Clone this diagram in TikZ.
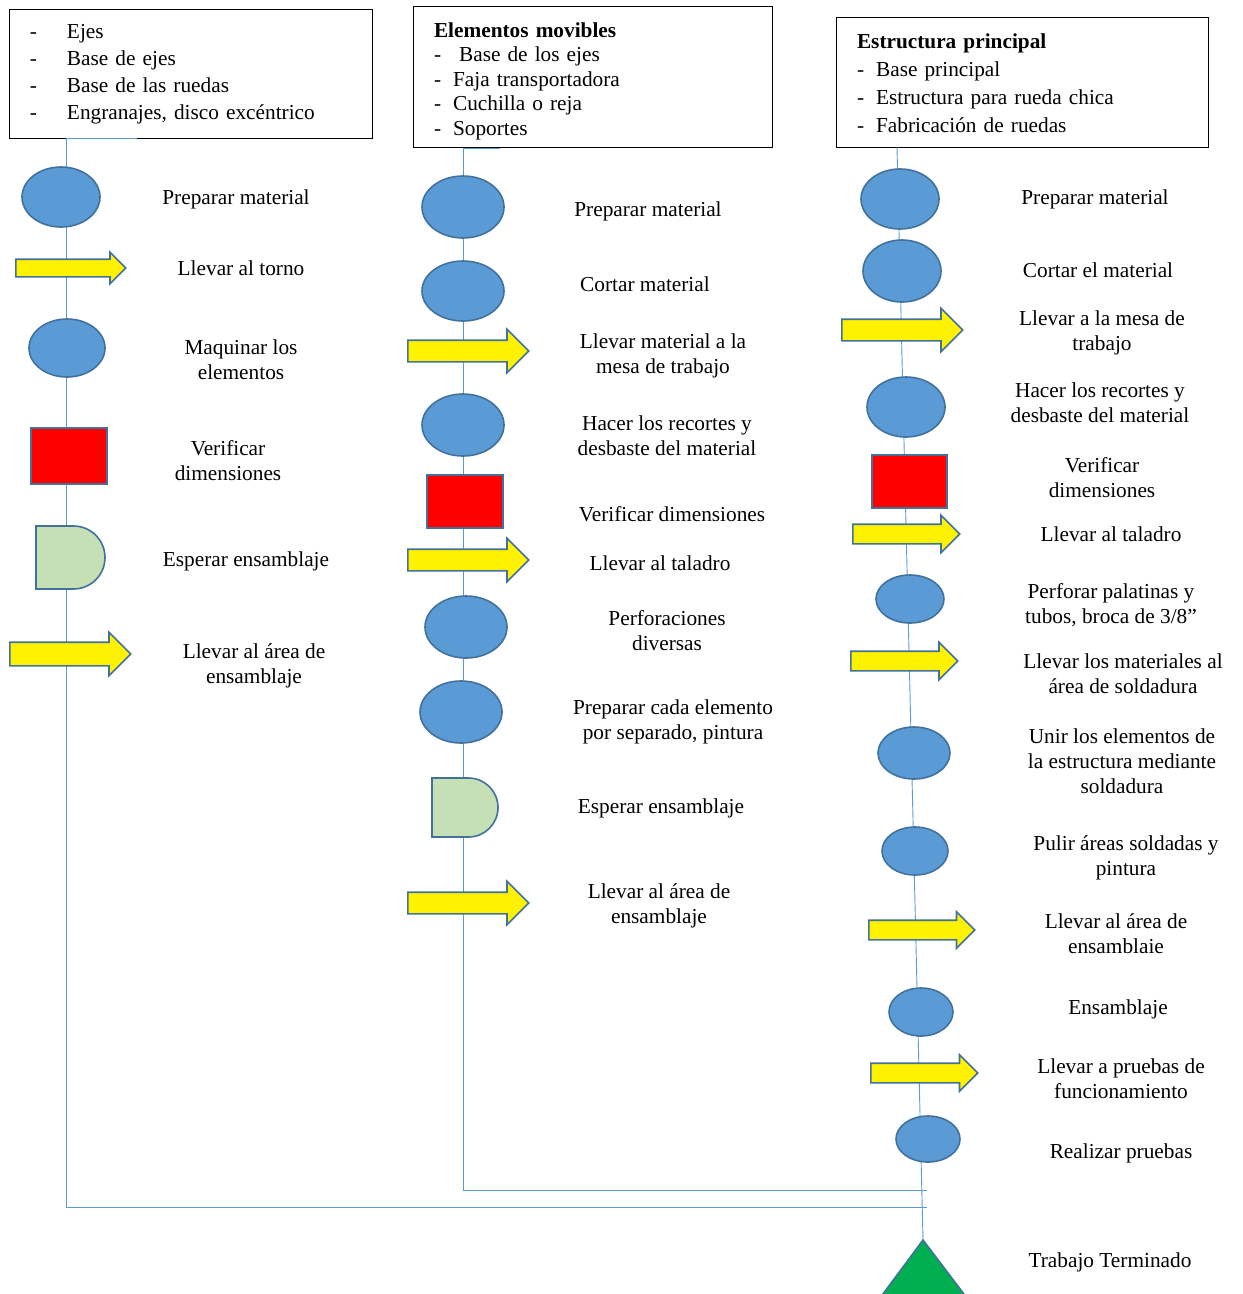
\documentclass[tikz,border=0pt]{standalone}
\usepackage{fontspec}
\setmainfont{Liberation Serif}
\usepackage{xcolor}
\usepackage{tikz}
\usetikzlibrary{shapes.geometric}
\usetikzlibrary{shapes.arrows}
\usetikzlibrary{positioning}

\definecolor{linea}{HTML}{5B9BD5}
\definecolor{borde}{HTML}{41719C}
\definecolor{opazul}{HTML}{5B9BD5}
\definecolor{espera}{HTML}{C5E0B4}
\definecolor{verde}{HTML}{00B050}

\begin{document}
\begin{tikzpicture}[
    x=1pt, y=-1pt,
	font=\fontsize{21.3}{25}\selectfont,
    flujo/.style={draw=linea, line width=0.9pt},
    caja/.style={rectangle, draw, line width=1pt, align=left, inner xsep=21pt, inner ysep=0pt},
    oper/.style={ellipse, draw=borde, fill=opazul, line width=1.6pt, inner sep=0pt},
    transp/.style={single arrow, draw=borde, fill=yellow, line width=1.6pt, anchor=tail,
        inner xsep=0pt, inner ysep=10pt, single arrow head extend=11pt, single arrow head indent=0pt},
    insp/.style={rectangle, draw=borde, fill=red, line width=1.6pt, inner sep=0pt},
    demora/.style={draw=borde, fill=espera, line width=1.6pt},
    etq/.style={align=center, inner sep=0pt}
    ]
\clip (0,0) rectangle (1243,1294);
\useasboundingbox (0,0) rectangle (1243,1294);

% cajas de encabezado
\node[caja, text width=321pt, minimum height=129] (caja1) at (190.5,73.5) {\begin{tabular}{@{}p{37pt}@{}l@{}}
-&Ejes\\[2pt]
-&Base de ejes\\[2pt]
-&Base de las ruedas\\[2pt]
-&Engranajes, disco excéntrico
\end{tabular}};
\node[caja, text width=317pt, minimum height=141] (caja2) at (592.5,76.5) {\begin{tabular}{@{}l@{}}
\textbf{Elementos movibles}\\[-0.5pt]
-\hspace{18pt}Base de los ejes\\[-0.5pt]
-\hspace{12pt}Faja transportadora\\[-0.5pt]
-\hspace{12pt}Cuchilla o reja\\[-0.5pt]
-\hspace{12pt}Soportes\\[-9pt]
\end{tabular}};
\node[caja, text width=330pt, minimum height=130] (caja3) at (1022,82) {\begin{tabular}{@{}l@{}}
\textbf{Estructura principal}\\[3pt]
-\hspace{12pt}Base principal\\[3pt]
-\hspace{12pt}Estructura para rueda chica\\[3pt]
-\hspace{12pt}Fabricación de ruedas\\[-6pt]
\end{tabular}};

% lineas de flujo
\coordinate (ini1) at (66,138);
\coordinate (fin1) at (66,1207);
\coordinate (une1) at (927,1207);
\coordinate (ini2) at (463,148);
\coordinate (fin2) at (463,1190);
\coordinate (une2) at (927,1190);
\coordinate (ini3) at (897,147);
\coordinate (fin3) at (923,1240);
\draw[flujo] (66,138) -- (137,138);
\draw[flujo] (ini2) -- (500,148);
\draw[flujo] (ini1) -- (fin1) -- (une1);
\draw[flujo] (ini2) -- (fin2) -- (une2);
\draw[flujo] (ini3) -- (fin3);

% columna 1
\node[oper, minimum width=78, minimum height=60] (op11) at (61,197) {};
\node[etq] (tx11) at (236,199) {Preparar material};
\node[transp, minimum height=110, inner ysep=8pt, single arrow head extend=7pt] (tr12) at (15,268) {};
\node[etq] (tx12) at (241,268) {Llevar al torno};
\node[oper, minimum width=76, minimum height=58] (op13) at (67,348) {};
\node[etq] (tx13) at (241,360) {Maquinar los\\elementos};
\node[insp, minimum width=76, minimum height=56] (in14) at (69,456) {};
\node[etq] (tx14) at (228,461) {Verificar\\dimensiones};
\coordinate (de15) at (36,526);
\draw[demora] (de15) -- (73.5,526) arc[start angle=90, end angle=-90, radius=31.5pt] -- (36,589) -- cycle;
\node[etq] (tx15) at (246,561) {Esperar ensamblaje};
\node[transp, minimum height=121, inner ysep=11pt, single arrow head extend=10pt] (tr16) at (9,654) {};
\node[etq] (tx16) at (254,666) {Llevar al área de\\ensamblaje};

% columna 2
\node[oper, minimum width=82, minimum height=62] (op21) at (463,207) {};
\node[etq] (tx21) at (648,211) {Preparar material};
\node[oper, minimum width=82, minimum height=60] (op22) at (463,291) {};
\node[etq] (tx22) at (645,284) {Cortar material};
\node[transp, minimum height=121] (tr23) at (407,351) {};
\node[etq] (tx23) at (663,356) {Llevar material a la\\mesa de trabajo};
\node[oper, minimum width=82, minimum height=62] (op24) at (463,425) {};
\node[etq] (tx24) at (667,436) {Hacer los recortes y\\desbaste del material};
\node[insp, minimum width=76, minimum height=53] (in25) at (465,501.5) {};
\node[etq] (tx25) at (672,514) {Verificar dimensiones};
\node[transp, minimum height=121] (tr26) at (407,560) {};
\node[etq] (tx26) at (660,563) {Llevar al taladro};
\node[oper, minimum width=82, minimum height=62] (op27) at (466,627) {};
\node[etq] (tx27) at (667,631) {Perforaciones\\diversas};
\node[oper, minimum width=82, minimum height=62] (op28) at (461,712) {};
\node[etq] (tx28) at (673,722) {Preparar cada elemento\\por separado, pintura};
\coordinate (de29) at (432,778);
\draw[demora] (de29) -- (468.5,778) arc[start angle=90, end angle=-90, radius=29.5pt] -- (432,837) -- cycle;
\node[etq] (tx29) at (661,808) {Esperar ensamblaje};
\node[transp, minimum height=121] (tr210) at (407,903) {};
\node[etq] (tx210) at (659,906) {Llevar al área de\\ensamblaje};

% columna 3
\node[oper, minimum width=78, minimum height=60] (op31) at (900,199) {};
\node[etq] (tx31) at (1095,199) {Preparar material};
\node[oper, minimum width=78, minimum height=62] (op32) at (902,271) {};
\node[etq] (tx32) at (1098,270) {Cortar el material};
\node[transp, minimum height=121] (tr33) at (841,330) {};
\node[etq] (tx33) at (1102,333) {Llevar a la mesa de\\trabajo};
\node[oper, minimum width=78, minimum height=60] (op34) at (906,407) {};
\node[etq] (tx34) at (1100,403) {Hacer los recortes y\\desbaste del material};
\node[insp, minimum width=75, minimum height=53] (in35) at (909.5,481.5) {};
\node[etq] (tx35) at (1102,478) {Verificar\\dimensiones};
\node[transp, minimum height=107, inner ysep=9pt, single arrow head extend=9pt] (tr36) at (852,534) {};
\node[etq] (tx36) at (1111,534) {Llevar al taladro};
\node[oper, minimum width=68, minimum height=48] (op37) at (910,599) {};
\node[etq] (tx37) at (1111,605) {Perforar palatinas y\\tubos, broca de 3/8”};
\node[transp, minimum height=107, inner ysep=9pt, single arrow head extend=9pt] (tr38) at (850,661) {};
\node[etq] (tx38) at (1123,674) {Llevar los materiales al\\área de soldadura};
\node[oper, minimum width=72, minimum height=52] (op39) at (914,753) {};
\node[etq] (tx39) at (1122,761) {Unir los elementos de\\la estructura mediante\\soldadura};
\node[oper, minimum width=66, minimum height=48] (op310) at (915,851) {};
\node[etq] (tx310) at (1126,858) {Pulir áreas soldadas y\\pintura};
\node[transp, minimum height=106, inner ysep=9pt, single arrow head extend=8.5pt] (tr311) at (868,930) {};
\node[etq] (tx311) at (1116,934) {Llevar al área de\\ensamblaie};
\node[oper, minimum width=64, minimum height=48] (op312) at (921,1012) {};
\node[etq] (tx312) at (1118,1009) {Ensamblaje};
\node[transp, minimum height=107, inner ysep=9pt, single arrow head extend=8.5pt] (tr313) at (870,1073) {};
\node[etq] (tx313) at (1121,1079) {Llevar a pruebas de\\funcionamiento};
\node[oper, minimum width=64, minimum height=46] (op314) at (928,1139) {};
\node[etq] (tx314) at (1121,1153) {Realizar pruebas};
\draw[demora, fill=verde] (fin3) -- (970,1302) -- (877,1302) -- cycle;
\node[etq] (tx315) at (1110,1262) {Trabajo Terminado};

\end{tikzpicture}
\end{document}
